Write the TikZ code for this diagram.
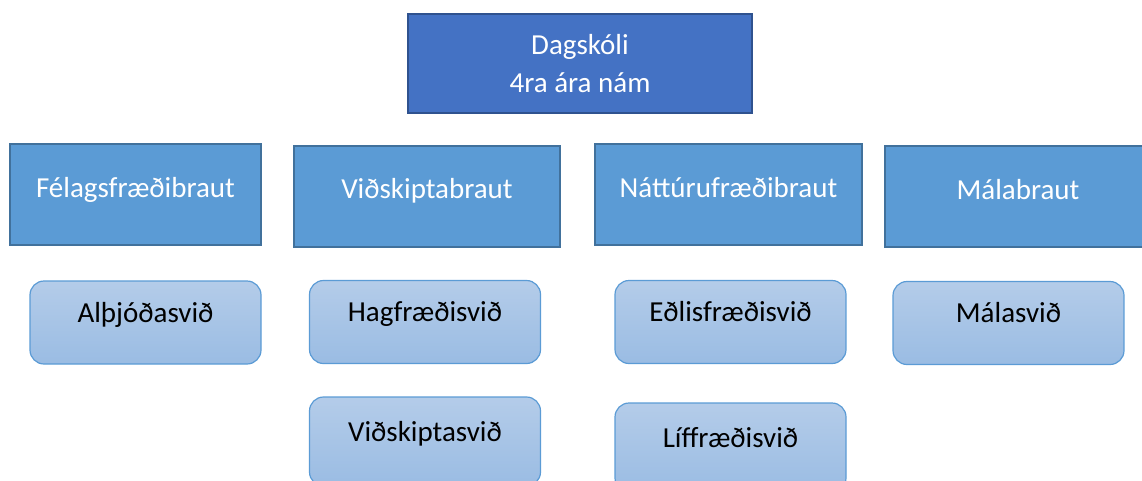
\documentclass[tikz,border=0pt]{standalone}
\usepackage{fontspec}
\setmainfont{Carlito}
\usepackage{xcolor}
\usetikzlibrary{positioning}

\definecolor{schoolfill}{HTML}{4472C4}
\definecolor{schooledge}{HTML}{2F528F}
\definecolor{trackfill}{HTML}{5B9BD5}
\definecolor{trackedge}{HTML}{41719C}
\definecolor{fieldtop}{HTML}{B4CCE9}
\definecolor{fieldbottom}{HTML}{9ABCE3}
\definecolor{fieldedge}{HTML}{5B9BD5}

\begin{document}
\begin{tikzpicture}[
        x=1pt, y=-1pt,
        school/.style={rectangle, draw=schooledge, fill=schoolfill, line width=2pt, text=white, align=center,
            minimum width=344pt, minimum height=99pt, font=\fontsize{29}{38}\selectfont},
        track/.style={rectangle, draw=trackedge, fill=trackfill, line width=2pt, text=white,
            text height=22pt, text depth=17pt,
            minimum height=101pt, font=\fontsize{29}{35}\selectfont},
        field/.style={rectangle, rounded corners=14pt, draw=fieldedge, line width=1.2pt,
            top color=fieldtop, bottom color=fieldbottom, text=black,
            text height=22pt, text depth=23pt,
            minimum width=231pt, minimum height=83pt, font=\fontsize{29}{35}\selectfont}
    ]
    \useasboundingbox (0,0) rectangle (1142,480);

    % --- Top ---
    \node[school] (dagskoli) at (580,63.5) {Dagskóli\\4ra ára nám};

    % --- Brautir ---
    \node[track, minimum width=251pt] (felags) at (135.5,194.5) {Félagsfræðibraut};
    \node[track, minimum width=266pt] (vidskipti) at (427,196) {Viðskiptabraut};
    \node[track, minimum width=267pt] (natturu) at (728.5,194.5) {Náttúrufræðibraut};
    \node[track, minimum width=266pt] (mala) at (1018,196.5) {Málabraut};

    % --- Svið ---
    \node[field] (althjod) at (145.5,322.5) {Alþjóðasvið};
    \node[field] (hagfr) at (425,322) {Hagfræðisvið};
    \node[field, minimum height=89pt] (vidsksvid) at (425,441.5) {Viðskiptasvið};
    \node[field] (edlis) at (730.5,322) {Eðlisfræðisvið};
    \node[field, minimum height=89pt] (liffr) at (730.5,447.5) {Líffræðisvið};
    \node[field] (malasvid) at (1008.5,323) {Málasvið};

\end{tikzpicture}
\end{document}
